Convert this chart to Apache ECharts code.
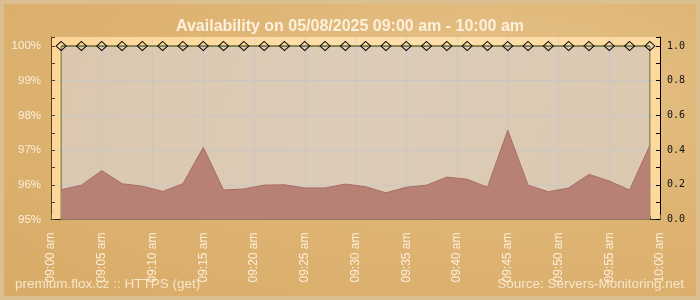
<!DOCTYPE html>
<html>
<head>
<meta charset="utf-8">
<script src="https://cdn.jsdelivr.net/npm/echarts@6/dist/echarts.min.js"></script>
<style>
  html, body { margin: 0; padding: 0; }
  #bg {
    position: absolute; left: 0; top: 0; width: 700px; height: 300px; box-sizing: border-box;
    border: 4px solid #dcbf90;
    background: radial-gradient(ellipse at 480px 90px, #e6c38c 0%, #dfb574 45%, #d8aa66 100%);
  }
  #chart { position: absolute; left: 0; top: 0; width: 700px; height: 300px; }
</style>
</head>
<body>
<div id="bg"></div>
<div id="chart"></div>
<script>
// ---- data ----
const titleText = 'Availability on 05/08/2025 09:00 am - 10:00 am';
const footerLeft = 'premium.flox.cz :: HTTPS (get)';
const footerRight = 'Source: Servers-Monitoring.net';

const times = ['09:01','09:03','09:05','09:07','09:09','09:11','09:13','09:15','09:17','09:19',
               '09:21','09:23','09:25','09:27','09:29','09:31','09:33','09:35','09:37','09:39',
               '09:41','09:43','09:45','09:47','09:49','09:51','09:53','09:55','09:57','09:59'];

const availability = [100,100,100,100,100,100,100,100,100,100,
                      100,100,100,100,100,100,100,100,100,100,
                      100,100,100,100,100,100,100,100,100,100];

const responseTime = [0.172, 0.198, 0.282, 0.206, 0.192, 0.162, 0.206, 0.416, 0.170, 0.176,
                      0.198, 0.200, 0.182, 0.182, 0.204, 0.189, 0.154, 0.186, 0.198, 0.244,
                      0.232, 0.186, 0.514, 0.198, 0.160, 0.182, 0.260, 0.222, 0.170, 0.427];

const xTickLabels = ['09:00 am','09:05 am','09:10 am','09:15 am','09:20 am','09:25 am','09:30 am',
                     '09:35 am','09:40 am','09:45 am','09:50 am','09:55 am','10:00 am'];
const leftTickLabels = ['95%','96%','97%','98%','99%','100%'];
const rightTickLabels = ['0.0','0.2','0.4','0.6','0.8','1.0'];

// ---- build ----
function toMin(t) { const p = t.split(':'); return (parseInt(p[0],10) - 9) * 60 + parseInt(p[1],10); }
const xs = times.map(toMin);
const availData = xs.map((x, i) => [x, availability[i]]);
const rtData = xs.map((x, i) => [x, responseTime[i]]);

const chart = echarts.init(document.getElementById('chart'), null, { renderer: 'canvas' });
const light = '#fcefdb';
const font = 'Liberation Sans, Arial, sans-serif';

chart.setOption({
  backgroundColor: 'transparent',
  animation: false,
  title: {
    text: titleText, left: 'center', top: 14,
    textStyle: { color: '#fdf0dc', fontSize: 16, fontWeight: 'bold', fontFamily: font }
  },
  grid: {
    left: 51, right: 40, top: 37, bottom: 80.5,
    show: true, borderWidth: 0,
    backgroundColor: new echarts.graphic.LinearGradient(0, 0, 1, 1, [
      { offset: 0, color: '#fdd697' }, { offset: 0.5, color: '#fedfac' }, { offset: 1, color: '#fdd89c' }
    ])
  },
  xAxis: {
    type: 'value', min: 0, max: 60, interval: 5,
    axisLine: { show: true, lineStyle: { color: '#2a2a10', width: 1 } },
    axisTick: { show: true, inside: true, length: 5, lineStyle: { color: '#6a6e3c' } },
    minorTick: { show: true, splitNumber: 5, length: 3, lineStyle: { color: '#6a6e3c' } },
    splitLine: { show: true, showMinLine: false, showMaxLine: false, lineStyle: { color: '#d9d3cc', width: 1 } },
    axisLabel: {
      rotate: 90, margin: 13, color: light, fontSize: 12, fontFamily: font,
      formatter: v => xTickLabels[Math.round(v / 5)] || ''
    }
  },
  yAxis: [{
    type: 'value', min: 95, max: 100.26, interval: 1,
    axisLine: { show: true, lineStyle: { color: '#5e4018', width: 1 } },
    axisTick: { show: true, inside: true, length: 4, lineStyle: { color: '#5e4018' } },
    minorTick: { show: true, splitNumber: 2, length: 4, lineStyle: { color: '#5e4018' } },
    splitLine: { show: true, showMinLine: false, showMaxLine: false, lineStyle: { color: '#d9d3cc', width: 1 } },
    axisLabel: {
      margin: 10, color: light, fontSize: 11.5, showMaxLabel: false, fontFamily: font,
      formatter: v => (Math.abs(v - Math.round(v)) < 1e-6 ? (leftTickLabels[Math.round(v) - 95] || '') : '')
    }
  }, {
    type: 'value', min: 0, max: 1.052, interval: 0.2,
    axisLine: { show: true, lineStyle: { color: '#000', width: 1 } },
    axisTick: { show: true, inside: true, length: 4, lineStyle: { color: '#000' } },
    minorTick: { show: true, splitNumber: 2, length: 4, lineStyle: { color: '#000' } },
    splitLine: { show: false },
    axisLabel: {
      margin: 7, color: '#111', fontSize: 10, showMaxLabel: false,
      fontFamily: 'DejaVu Sans Mono, monospace',
      formatter: v => { const k = Math.round(v * 5); return Math.abs(v * 5 - k) < 1e-6 ? (rightTickLabels[k] || '') : ''; }
    }
  }],
  series: [{
    name: 'Plot area', type: 'line', yAxisIndex: 0, data: availData, z: 1,
    symbol: 'none', lineStyle: { opacity: 0 }, silent: true,
    markArea: {
      silent: true,
      itemStyle: { color: 'rgba(188,186,196,0.52)', borderColor: '#6d6d3a', borderWidth: 1 },
      data: [[{ xAxis: xs[0], yAxis: 95 }, { xAxis: xs[xs.length - 1], yAxis: Math.max.apply(null, availability) }]]
    }
  }, {
    name: 'Response time', type: 'line', yAxisIndex: 1, data: rtData,
    symbol: 'none', smooth: false, z: 3,
    lineStyle: { color: '#aa6d60', width: 1 },
    areaStyle: { color: '#b88176', opacity: 1 }
  }, {
    name: 'Availability', type: 'line', yAxisIndex: 0, data: availData, z: 5,
    symbol: 'diamond', symbolSize: [10, 9],
    lineStyle: { color: '#6d6d30', width: 1 },
    itemStyle: { color: 'rgba(0,0,0,0)', borderColor: '#000', borderWidth: 1 }
  }],
  graphic: [{
    type: 'text', left: 15, top: 277,
    style: { text: footerLeft, fill: 'rgba(252,240,220,0.85)', fontSize: 13.5, fontFamily: font }
  }, {
    type: 'text', right: 16, top: 277,
    style: { text: footerRight, fill: 'rgba(252,240,220,0.85)', fontSize: 13.5, fontFamily: font }
  }]
});
</script>
</body>
</html>
